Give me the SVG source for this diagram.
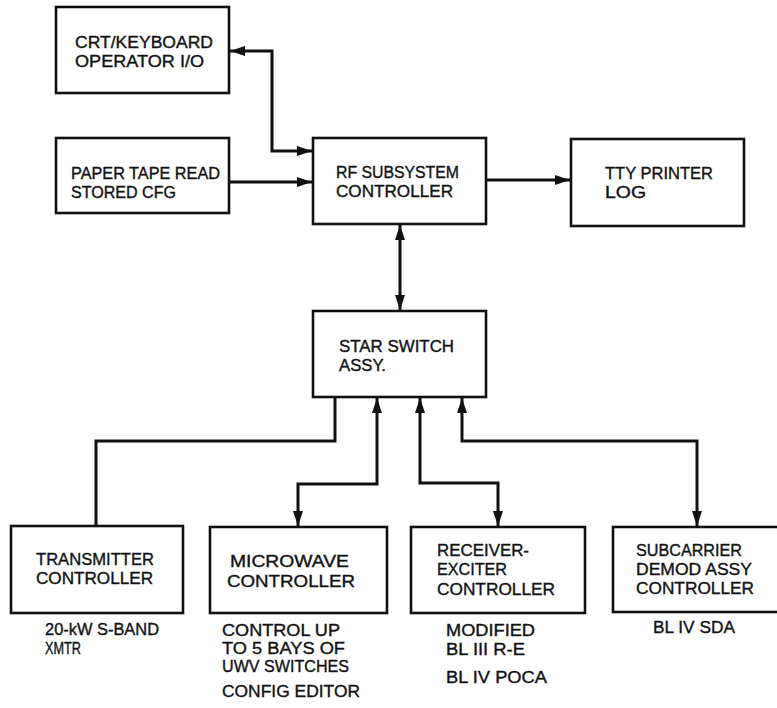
<svg xmlns="http://www.w3.org/2000/svg" width="777" height="708" viewBox="0 0 777 708">
<defs>
<style>
.box{fill:#fff;stroke:#111;stroke-width:2.6}
.t{font-family:"Liberation Sans",Arial,sans-serif;font-size:16px;fill:#111;stroke:#111;stroke-width:0.35}
.c{fill:none;stroke:#111;stroke-width:3}
.a{marker-end:url(#arr)}
.b{marker-start:url(#arr);marker-end:url(#arr)}
</style>
<marker id="arr" markerUnits="userSpaceOnUse" markerWidth="16" markerHeight="11" refX="15" refY="5" orient="auto-start-reverse">
<path d="M0,0 L15,5 L0,10 z" fill="#111"/>
</marker>
</defs>
<rect width="777" height="708" fill="#fff"/>

<g id="connectors">
<path class="c b" d="M230,51 H272 V151 H312"/>
<path class="c a" d="M230,182 H312"/>
<path class="c a" d="M487,180 H570"/>
<path class="c b" d="M400,225 V310"/>
<path class="c" d="M335,398 V441 H96 V526"/>
<path class="c b" d="M377,398 V484 H298 V526"/>
<path class="c b" d="M420,398 V483 H498 V526"/>
<path class="c b" d="M462,398 V441 H697 V526"/>
</g>

<g id="crt">
<rect class="box" x="56" y="7" width="173" height="86"/>
<text class="t" x="75" y="48" textLength="138" lengthAdjust="spacingAndGlyphs">CRT/KEYBOARD</text>
<text class="t" x="75" y="67" textLength="129" lengthAdjust="spacingAndGlyphs">OPERATOR I/O</text>
</g>

<g id="papertape">
<rect class="box" x="56" y="138" width="173" height="75"/>
<text class="t" x="71" y="179" textLength="149" lengthAdjust="spacingAndGlyphs">PAPER TAPE READ</text>
<text class="t" x="71" y="198" textLength="105" lengthAdjust="spacingAndGlyphs">STORED CFG</text>
</g>

<g id="rf">
<rect class="box" x="313" y="138" width="173" height="86"/>
<text class="t" x="336" y="178" textLength="123" lengthAdjust="spacingAndGlyphs">RF SUBSYSTEM</text>
<text class="t" x="336" y="197" textLength="117" lengthAdjust="spacingAndGlyphs">CONTROLLER</text>
</g>

<g id="tty">
<rect class="box" x="571" y="139" width="173" height="87"/>
<text class="t" x="605" y="179" textLength="108" lengthAdjust="spacingAndGlyphs">TTY PRINTER</text>
<text class="t" x="605" y="198" textLength="41" lengthAdjust="spacingAndGlyphs">LOG</text>
</g>

<g id="star">
<rect class="box" x="313" y="311" width="173" height="86"/>
<text class="t" x="339" y="352" textLength="115" lengthAdjust="spacingAndGlyphs">STAR SWITCH</text>
<text class="t" x="339" y="371" textLength="47" lengthAdjust="spacingAndGlyphs">ASSY.</text>
</g>

<g id="transmitter">
<rect class="box" x="11" y="526" width="172" height="87"/>
<text class="t" x="36" y="565" textLength="118" lengthAdjust="spacingAndGlyphs">TRANSMITTER</text>
<text class="t" x="36" y="584" textLength="117" lengthAdjust="spacingAndGlyphs">CONTROLLER</text>
<text class="t" x="45" y="635" textLength="114" lengthAdjust="spacingAndGlyphs">20-kW S-BAND</text>
<text class="t" x="45" y="654" textLength="36" lengthAdjust="spacingAndGlyphs">XMTR</text>
</g>

<g id="microwave">
<rect class="box" x="210" y="527" width="177" height="86"/>
<text class="t" x="230" y="567" textLength="119" lengthAdjust="spacingAndGlyphs">MICROWAVE</text>
<text class="t" x="227" y="587" textLength="128" lengthAdjust="spacingAndGlyphs">CONTROLLER</text>
<text class="t" x="222" y="636" textLength="118" lengthAdjust="spacingAndGlyphs">CONTROL UP</text>
<text class="t" x="222" y="654" textLength="123" lengthAdjust="spacingAndGlyphs">TO 5 BAYS OF</text>
<text class="t" x="222" y="672" textLength="127" lengthAdjust="spacingAndGlyphs">UWV SWITCHES</text>
<text class="t" x="222" y="697" textLength="138" lengthAdjust="spacingAndGlyphs">CONFIG EDITOR</text>
</g>

<g id="receiver">
<rect class="box" x="411" y="527" width="174" height="86"/>
<text class="t" x="437" y="556" textLength="92" lengthAdjust="spacingAndGlyphs">RECEIVER-</text>
<text class="t" x="437" y="575" textLength="70" lengthAdjust="spacingAndGlyphs">EXCITER</text>
<text class="t" x="437" y="595" textLength="118" lengthAdjust="spacingAndGlyphs">CONTROLLER</text>
<text class="t" x="446" y="636" textLength="89" lengthAdjust="spacingAndGlyphs">MODIFIED</text>
<text class="t" x="446" y="655" textLength="79" lengthAdjust="spacingAndGlyphs">BL III R-E</text>
<text class="t" x="446" y="683" textLength="101" lengthAdjust="spacingAndGlyphs">BL IV POCA</text>
</g>

<g id="subcarrier">
<rect class="box" x="613" y="527" width="180" height="85"/>
<text class="t" x="636" y="556" textLength="106" lengthAdjust="spacingAndGlyphs">SUBCARRIER</text>
<text class="t" x="636" y="575" textLength="116" lengthAdjust="spacingAndGlyphs">DEMOD ASSY</text>
<text class="t" x="636" y="594" textLength="118" lengthAdjust="spacingAndGlyphs">CONTROLLER</text>
<text class="t" x="653" y="633" textLength="82" lengthAdjust="spacingAndGlyphs">BL IV SDA</text>
</g>
</svg>
